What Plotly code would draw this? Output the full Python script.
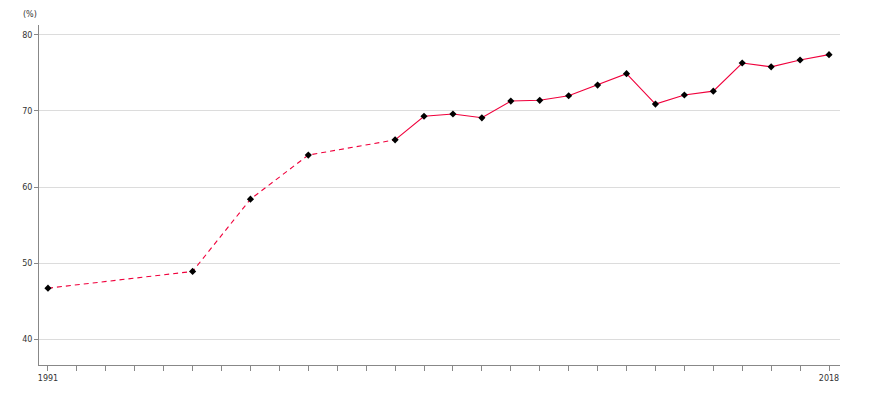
import plotly.graph_objects as go

years = [1991, 1996, 1998, 2000, 2003, 2004, 2005, 2006, 2007, 2008, 2009, 2010,
         2011, 2012, 2013, 2014, 2015, 2016, 2017, 2018]
values = [46.7, 48.9, 58.4, 64.2, 66.2, 69.3, 69.6, 69.1, 71.3, 71.4, 72.0, 73.4,
          74.9, 70.9, 72.1, 72.6, 76.3, 75.8, 76.7, 77.4]
dashed_until = 2003
all_years = list(range(1991, 2019))
tick_text = [str(y) if y in (1991, 2018) else "" for y in all_years]
y_ticks = [40, 50, 60, 70, 80]

LINE = "#f0003c"
fig = go.Figure()
i = years.index(dashed_until)
fig.add_trace(go.Scatter(x=years[:i + 1], y=values[:i + 1], mode="lines",
                         line=dict(color=LINE, width=1.1, dash="5px,4px"), hoverinfo="skip"))
fig.add_trace(go.Scatter(x=years[i:], y=values[i:], mode="lines",
                         line=dict(color=LINE, width=1.1), hoverinfo="skip"))
fig.add_trace(go.Scatter(x=years, y=values, mode="markers",
                         marker=dict(symbol="diamond", size=5.5, color="black")))

fig.update_layout(
    width=870, height=400, showlegend=False,
    paper_bgcolor="white", plot_bgcolor="white",
    margin=dict(l=31, r=38, t=17, b=43),
    font=dict(family="DejaVu Sans", size=9, color="#333"),
)
fig.add_annotation(text="(%)", xref="paper", yref="paper", x=-0.022, y=1.0,
                   yshift=4, xanchor="left", yanchor="bottom", showarrow=False,
                   font=dict(size=8, color="#333"))
fig.update_xaxes(range=[1990.69, 2018.38], tickvals=all_years, ticktext=tick_text,
                 ticks="outside", ticklen=5, tickcolor="#888", showgrid=False,
                 showline=True, linecolor="#888", linewidth=1, zeroline=False,
                 tickfont=dict(size=8, color="#333"))
fig.update_yaxes(range=[36.6, 81.3], tickvals=y_ticks, ticks="outside", ticklen=4,
                 tickcolor="#888", showgrid=True, gridcolor="#dcdcdc", gridwidth=1,
                 showline=True, linecolor="#888", linewidth=1, zeroline=False,
                 tickfont=dict(size=8, color="#333"))
fig.write_html("out.html")
